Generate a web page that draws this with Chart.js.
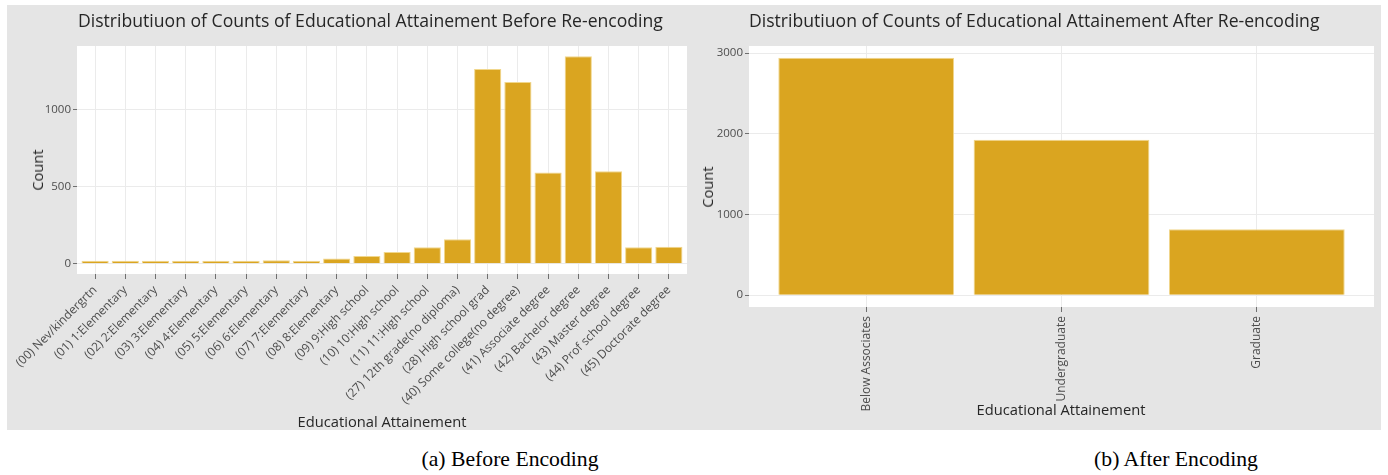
<!DOCTYPE html>
<html>
<head>
<meta charset="utf-8">
<script src="https://cdn.jsdelivr.net/npm/chart.js@4.4.1/dist/chart.umd.min.js"></script>
<style>
  body { margin: 0; width: 1388px; height: 475px; background: #fff; position: relative; overflow: hidden; font-family: "Open Sans", sans-serif; }
  #bg { position: absolute; left: 7px; top: 5px; width: 1374px; height: 425px; background: #e5e5e5; }
  canvas { position: absolute; top: 5px; }
  .title { position: absolute; top: 9px; font-size: 17.6px; line-height: 22px; color: #262626; white-space: nowrap; }
  .xtitle { position: absolute; font-size: 14.7px; line-height: 18px; color: #262626; white-space: nowrap; transform: translateX(-50%); }
  .ytitle { position: absolute; font-size: 14.7px; line-height: 18px; color: #262626; white-space: nowrap; transform: translate(-50%, -50%) rotate(-90deg); }
  .caption { position: absolute; top: 446px; font-family: "Liberation Serif", serif; font-size: 21.7px; line-height: 26px; color: #000; white-space: nowrap; transform: translateX(-50%); }
</style>
</head>
<body>
<div id="bg"></div>
<canvas id="beforeChart" width="687" height="425" style="left:7px"></canvas>
<canvas id="afterChart" width="687" height="425" style="left:694px"></canvas>

<div class="title" style="left:78px">Distributiuon of Counts of Educational Attainement Before Re-encoding</div>
<div class="title" style="left:749px">Distributiuon of Counts of Educational Attainement After Re-encoding</div>
<div class="xtitle" style="left:382px; top:412px">Educational Attainement</div>
<div class="xtitle" style="left:1061px; top:400px">Educational Attainement</div>
<div class="ytitle" style="left:37px; top:170px">Count</div>
<div class="ytitle" style="left:707px; top:187px">Count</div>
<div class="caption" style="left:510px">(a) Before Encoding</div>
<div class="caption" style="left:1176px">(b) After Encoding</div>

<script>
// dados
const beforeLabels = [
  "(00) Nev/kindergrtn", "(01) 1:Elementary", "(02) 2:Elementary", "(03) 3:Elementary",
  "(04) 4:Elementary", "(05) 5:Elementary", "(06) 6:Elementary", "(07) 7:Elementary",
  "(08) 8:Elementary", "(09) 9:High school", "(10) 10:High school", "(11) 11:High school",
  "(27) 12th grade(no diploma)", "(28) High school grad", "(40) Some college(no degree)",
  "(41) Associate degree", "(42) Bachelor degree", "(43) Master degree",
  "(44) Prof school degree", "(45) Doctorate degree"
];
const beforeCounts = [4, 2, 4, 4, 6, 8, 22, 17, 33, 50, 76, 106, 158, 1263, 1178, 592, 1345, 600, 106, 110];
const beforeTicks = [0, 500, 1000];

const afterLabels = ["Below Associates", "Undergraduate", "Graduate"];
const afterCounts = [2940, 1925, 815];
const afterTicks = [0, 1000, 2000, 3000];

const barFill = '#DAA520';
const barLine = '#f1d78c';

// fundo branco so na area do grafico
const plotBg = {
  id: 'plotBg',
  beforeDraw(chart) {
    const { ctx, chartArea: a } = chart;
    ctx.save();
    ctx.fillStyle = '#ffffff';
    ctx.fillRect(a.left, a.top, a.right - a.left, a.bottom - a.top);
    ctx.restore();
  }
};

function drawBars(id, labels, counts, yTicks, yWidth, xHeight, rotation) {
  const top = Math.max(...counts);
  const pad = top * 0.05;
  const idx = labels.map((_, i) => i);

  new Chart(document.getElementById(id).getContext('2d'), {
    type: 'bar',
    data: {
      datasets: [{
        data: counts.map((c, i) => ({ x: i, y: c })),
        backgroundColor: barFill,
        borderColor: barLine,
        borderWidth: 1,
        minBarLength: 3,
        barPercentage: 0.9,
        categoryPercentage: 1
      }]
    },
    options: {
      responsive: false,
      animation: false,
      layout: { padding: { top: 41, right: 7, left: 0, bottom: 0 } },
      plugins: { legend: { display: false }, tooltip: { enabled: false } },
      scales: {
        x: {
          type: 'linear',
          min: -0.6,
          max: labels.length - 0.4,
          offset: false,
          border: { display: false },
          grid: { color: '#ebebeb', tickColor: '#6f6f6f', tickLength: 5, offset: false },
          ticks: {
            autoSkip: false,
            minRotation: rotation,
            maxRotation: rotation,
            padding: 4,
            color: '#4d4d4d',
            font: { family: 'Open Sans', size: 12 },
            callback: v => labels[v]
          },
          afterBuildTicks: s => { s.ticks = idx.map(v => ({ value: v })); },
          afterFit: s => { s.height = xHeight; }
        },
        y: {
          min: -pad,
          max: top + pad,
          border: { display: false },
          grid: { color: '#ebebeb', tickColor: '#6f6f6f', tickLength: 4 },
          ticks: {
            padding: 2,
            color: '#4d4d4d',
            font: { family: 'Open Sans', size: 11.5 },
            callback: v => String(v)
          },
          afterBuildTicks: s => { s.ticks = yTicks.map(v => ({ value: v })); },
          afterFit: s => { s.width = yWidth; }
        }
      }
    },
    plugins: [plotBg]
  });
}

drawBars('beforeChart', beforeLabels, beforeCounts, beforeTicks, 70, 156, 45);
drawBars('afterChart', afterLabels, afterCounts, afterTicks, 55, 123, 90);
</script>
</body>
</html>
